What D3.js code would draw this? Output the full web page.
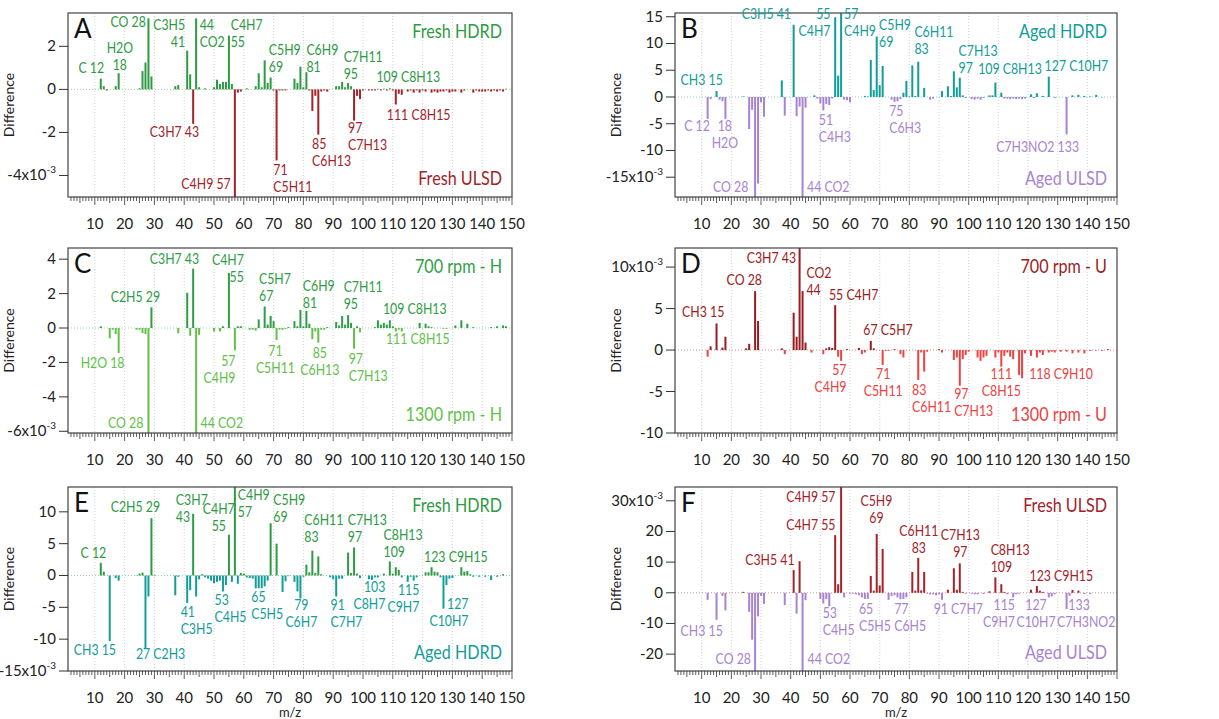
<!DOCTYPE html>
<html lang="en">
<head>
<meta charset="UTF-8">
<title>Difference spectra</title>
<script src="https://d3js.org/d3.v7.min.js"></script>
<style>
  body { margin: 0; background: #fff; font-family: Lato, "Open Sans", sans-serif; }
  svg text { font-family: Lato, "Open Sans", sans-serif; }
</style>
</head>
<body>
<script>
// values are x10^-3, [m/z, difference]
const specA = [[12,0.5],[13,0.15],[14,-0.05],[17,0.15],[18,0.75],[25,0.05],[26,0.85],[27,1.25],[28,3.3],[29,0.6],
  [37,0.15],[38,0.2],[41,1.8],[42,0.7],[43,-1.6],[44,3.3],[45,0.1],[47,0.05],[50,0.1],[51,0.45],[52,0.25],[53,0.35],
  [54,0.35],[55,2.5],[56,0.25],[57,-5.5],[58,-0.15],[59,-0.1],[61,0.05],[64,0.15],[65,0.75],[66,0.1],[67,1.35],[68,0.3],
  [69,0.55],[70,-0.05],[71,-3.3],[72,-0.05],[73,-0.05],[74,-0.05],[77,0.5],[78,0.3],[79,1.05],[80,0.1],[81,0.8],
  [82,-0.05],[83,-1.0],[84,-0.3],[85,-2.1],[86,-0.1],[87,-0.05],[88,-0.1],[91,0.15],[92,0.15],[93,0.35],[94,0.1],
  [95,0.3],[96,0.15],[97,-1.45],[98,-0.3],[99,-0.45],[100,-0.05],[102,-0.05],[103,-0.05],[104,-0.05],[105,0.03],
  [106,-0.05],[107,0.03],[108,-0.05],[109,0.05],[110,-0.05],[111,-0.7],[112,-0.2],[113,-0.25],[115,-0.1],[116,-0.05],
  [117,-0.15],[118,-0.05],[119,-0.15],[120,-0.05],[121,-0.1],[123,-0.15],[124,-0.1],[125,-0.15],[126,-0.1],[127,-0.1],
  [128,-0.05],[129,-0.15],[130,-0.1],[131,-0.1],[133,-0.15],[134,-0.05],[137,-0.15],[138,-0.05],[139,-0.1],[140,-0.1],
  [141,-0.1],[142,-0.05],[143,-0.1],[144,-0.05],[145,-0.1],[146,-0.05],[147,-0.1],[148,0.03]];

const specB = [[12,-4.1],[13,-0.4],[15,1.1],[16,-0.5],[17,-0.8],[18,-4.1],[24,0.1],[26,-6.0],[27,-2.4],[28,-20],
  [29,-16.2],[30,-1.0],[31,-3.7],[37,3.1],[38,-3.5],[41,13.5],[42,-3.6],[43,-1.8],[44,-20],[45,-2.0],[48,0.3],
  [49,-0.3],[50,-1.2],[51,-2.5],[52,-1.3],[53,-1.5],[54,-0.3],[55,14.9],[56,4.0],[57,16.5],[58,-0.5],[59,-0.6],
  [60,-1.0],[65,0.2],[66,0.1],[67,6.9],[68,1.3],[69,11.3],[70,2.2],[71,5.8],[74,-0.5],[75,-0.9],[76,-0.8],[77,-0.4],
  [78,0.8],[79,3.0],[80,0.1],[81,5.9],[82,0.2],[83,6.6],[85,1.7],[87,-0.5],[88,-0.3],[91,1.1],[93,2.0],[94,0.2],
  [95,4.8],[96,1.8],[97,3.6],[98,0.3],[99,-0.2],[101,-0.4],[102,-0.5],[103,-0.3],[104,-0.5],[105,-0.2],[107,0.3],
  [108,0.3],[109,2.7],[111,0.8],[112,-0.3],[113,-0.3],[114,-0.4],[115,-0.3],[116,-0.4],[117,-0.3],[118,-0.4],
  [119,-0.3],[121,0.5],[122,-0.2],[123,0.7],[125,0.2],[127,3.8],[129,-0.2],[133,-7.0],[135,0.3],[137,0.4],[139,0.2],
  [141,0.1],[143,0.4],[145,-0.1]];

const specC = [[12,0.1],[15,-0.6],[16,-0.1],[17,-0.35],[18,-1.45],[24,-0.1],[25,-0.1],[26,-0.3],[27,-0.35],[28,-6.3],
  [29,1.2],[38,-0.3],[41,2.05],[42,-0.45],[43,3.45],[44,-6.3],[45,-0.4],[50,-0.2],[52,-0.2],[53,0.1],[55,3.2],
  [57,-1.3],[58,0.1],[59,0.1],[62,-0.1],[63,-0.1],[64,-0.15],[65,0.5],[67,1.25],[68,0.2],[69,0.7],[70,0.4],[71,-0.7],
  [72,-0.1],[73,-0.1],[74,-0.05],[75,0.05],[77,0.4],[78,0.1],[79,1.05],[80,0.1],[81,1.0],[82,0.25],[83,-0.65],
  [84,-0.2],[85,-0.85],[86,-0.1],[87,-0.1],[88,0.05],[91,0.35],[92,0.15],[93,0.7],[94,0.2],[95,0.75],[96,0.3],
  [97,-1.2],[98,0.1],[99,-0.25],[104,0.05],[105,0.45],[106,0.2],[107,0.3],[108,0.2],[109,0.45],[110,0.1],[111,-0.2],
  [112,-0.1],[113,-0.2],[119,0.3],[121,0.25],[122,0.1],[123,0.05],[127,-0.05],[128,-0.05],[131,0.15],[133,0.45],
  [135,0.25],[137,0.05],[143,0.05],[145,0.1],[147,0.15],[148,0.1]];

const specD = [[12,-0.8],[13,0.45],[15,3.2],[17,0.3],[18,1.6],[25,0.2],[26,0.75],[28,7.1],[29,3.5],[37,0.2],[38,-0.5],
  [41,4.5],[42,1.6],[43,12.5],[44,7.1],[45,0.9],[47,-0.3],[51,-0.5],[52,0.2],[53,0.35],[54,0.25],[55,5.4],[56,-0.8],
  [57,-1.3],[59,0.1],[63,0.25],[64,-0.5],[65,-0.3],[67,1.1],[68,0.2],[71,-1.8],[72,-0.1],[73,-0.1],[75,0.1],[77,-0.5],
  [78,-0.9],[83,-3.6],[84,-0.3],[85,-2.6],[86,-0.2],[90,0.1],[91,-0.3],[95,-1.2],[96,-0.9],[97,-4.3],[98,-1.1],
  [99,-0.6],[100,-0.2],[103,-0.9],[104,-1.3],[105,-0.9],[106,-0.7],[109,-0.9],[110,-0.3],[111,-2.0],[112,-0.7],
  [113,-0.3],[114,-0.8],[115,-1.1],[117,-3.0],[118,-3.4],[119,-0.4],[121,-0.7],[123,-0.9],[124,-0.3],[125,-0.6],
  [127,-0.3],[128,-0.2],[129,-0.3],[131,-0.2],[133,-0.2],[135,-0.4],[137,-0.3],[139,-0.4],[141,-0.1],[143,-0.05],
  [145,-0.1],[147,0.1]];

const specE = [[12,2.0],[13,0.6],[15,-10.3],[17,-0.4],[18,-0.8],[24,0.05],[25,0.3],[26,0.45],[27,-11.5],[28,-3.3],
  [29,9.0],[30,0.1],[37,-3.1],[38,-0.2],[41,-4.3],[42,-2.3],[43,9.7],[44,-3.3],[45,-0.6],[46,0.2],[47,-0.3],[48,-0.5],
  [49,-0.8],[50,-1.2],[51,-1.0],[52,-0.8],[53,-2.5],[54,-1.5],[55,6.4],[56,-1.0],[57,14.5],[58,-1.3],[59,0.4],[60,0.3],
  [61,-0.3],[62,-0.4],[63,-0.5],[64,-2.0],[65,-2.0],[66,-2.0],[67,-1.7],[68,-0.8],[69,8.2],[71,5.0],[73,-2.6],
  [74,-0.9],[75,-0.1],[77,-1.0],[78,-2.5],[79,-3.6],[80,-0.2],[81,1.7],[82,0.5],[83,3.9],[84,0.4],[85,3.0],[86,0.2],
  [89,-0.3],[90,-0.6],[91,-3.3],[92,-0.5],[93,-0.5],[95,3.6],[96,0.4],[97,4.4],[98,0.3],[99,-0.4],[102,-0.6],
  [103,-0.7],[104,-0.3],[105,-0.3],[107,0.3],[109,2.2],[110,0.3],[111,1.3],[112,0.9],[113,-0.3],[115,-1.0],[116,-0.2],
  [117,-0.8],[118,-0.3],[121,0.5],[122,0.5],[123,1.3],[124,0.6],[125,0.5],[126,-0.3],[127,-5.2],[128,-1.5],
  [129,-0.5],[130,-0.4],[133,1.3],[134,0.6],[135,0.7],[136,0.2],[137,-0.2],[139,-0.2],[141,-0.2],[143,-0.7],
  [145,-0.2],[147,0.2]];

const specF = [[12,-2.3],[15,-8.8],[17,-1.0],[18,-5.7],[24,0.3],[26,-6.2],[27,-15.3],[28,-28],[29,-7.7],[30,-1.0],
  [31,-3.6],[38,-4.0],[41,7.4],[42,-6.8],[43,10.3],[44,-28],[45,-2.4],[50,-2.0],[51,-3.5],[52,-2.0],[53,-4.4],
  [55,18.8],[56,2.8],[57,36],[58,-1.5],[60,-0.3],[61,-0.3],[62,-0.5],[63,-0.8],[64,-1.5],[65,-2.0],[66,-2.0],[67,5.5],
  [68,0.7],[69,19.2],[70,2.4],[71,14.3],[73,-2.3],[74,-1.0],[75,-0.8],[76,-1.5],[77,-2.1],[78,-2.0],[79,-1.5],
  [81,6.8],[82,0.7],[83,11.4],[84,0.8],[85,6.8],[86,-0.3],[87,-0.5],[88,-0.5],[89,-0.8],[90,-0.5],[91,-2.3],[93,1.0],
  [95,8.0],[96,1.0],[97,9.6],[98,0.3],[99,-0.3],[101,-0.3],[102,-0.5],[103,-0.5],[105,-0.4],[107,0.5],[109,5.0],
  [111,2.8],[112,0.3],[113,-0.5],[115,-1.5],[116,-0.5],[117,-0.3],[121,1.0],[123,2.2],[124,0.7],[125,0.3],
  [127,-1.5],[128,-1.2],[129,-0.5],[133,-5.3],[134,-1.0],[135,0.9],[137,0.7],[139,-0.4],[141,-0.4]];

// peak labels: [text, m/z, value, anchor, side]
const labelsA = [["C 12",8.8,0.74,"middle","p"],["H2O\n18",18.4,1.67,"middle","p"],["CO 28",21.2,2.88,"middle","p"],
  ["C3H5\n41",40.3,2.78,"end","p"],["44\nCO2",45.2,2.78,"start","p"],["C4H7\n55",55.6,2.78,"start","p"],
  ["C5H9\n69",68.4,1.59,"start","p"],["C6H9\n81",81.0,1.59,"start","p"],["C7H11\n95",93.5,1.28,"start","p"],
  ["109 C8H13",104.5,0.35,"start","p"],
  ["C3H7 43",45.0,-2.23,"end","n"],["C4H9 57",55.6,-4.64,"end","n"],["71\nC5H11",69.9,-3.98,"start","n"],
  ["85\nC6H13",82.9,-2.78,"start","n"],["97\nC7H13",95.0,-2.01,"start","n"],["111 C8H15",108.0,-1.42,"start","n"]];

const labelsB = [["CH3 15",10.0,2.3,"middle","p"],["C3H5 41",40.1,14.5,"end","p"],["55\nC4H7",53.4,14.5,"end","p"],
  ["57\nC4H9",58.0,14.5,"start","p"],["C5H9\n69",69.8,12.6,"start","p"],["C6H11\n83",81.7,11.25,"start","p"],
  ["C7H13\n97",96.6,7.6,"start","p"],["109 C8H13",103.2,4.37,"start","p"],["127 C10H7",125.6,4.8,"start","p"],
  ["C 12",8.4,-6.45,"middle","n"],["18\nH2O",17.8,-6.45,"middle","n"],["CO 28",25.7,-17.7,"end","n"],
  ["44 CO2",45.5,-17.7,"start","n"],["51\nC4H3",49.5,-5.2,"start","n"],["75\nC6H3",73.2,-3.64,"start","n"],
  ["C7H3NO2 133",137.2,-10.2,"end","n"]];

const labelsC = [["C2H5 29",31.9,1.5,"end","p"],["C3H7 43",45.0,3.74,"end","p"],["C4H7\n55",60.0,3.64,"end","p"],
  ["C5H7\n67",65.1,2.57,"start","p"],["C6H9\n81",79.8,2.14,"start","p"],["C7H11\n95",93.5,2.08,"start","p"],
  ["109 C8H13",106.7,0.82,"start","p"],
  ["H2O 18",12.6,-2.34,"middle","n"],["CO 28",26.3,-5.81,"end","n"],["44 CO2",45.5,-5.81,"start","n"],
  ["57\nC4H9",57.2,-2.2,"end","n"],["71\nC5H11",70.6,-1.62,"middle","n"],["85\nC6H13",85.5,-1.72,"middle","n"],
  ["97\nC7H13",95.2,-2.07,"start","n"],["111 C8H15",107.7,-0.94,"start","n"]];

const labelsD = [["CH3 15",10.5,4.0,"middle","p"],["CO 28",30.3,7.89,"end","p"],["C3H7 43",41.8,10.5,"end","p"],
  ["CO2\n44",45.3,8.69,"start","p"],["55 C4H7",52.9,6.09,"start","p"],["67 C5H7",64.5,1.76,"start","p"],
  ["57\nC4H9",58.8,-3.04,"end","n"],["71\nC5H11",71.2,-3.52,"middle","n"],["83\nC6H11",80.9,-5.4,"start","n"],
  ["97\nC7H13",95.1,-5.92,"start","n"],["111\nC8H15",111.0,-3.52,"middle","n"],["118 C9H10",120.4,-3.52,"start","n"]];

const labelsE = [["C 12",9.5,2.77,"middle","p"],["C2H5 29",31.9,10.0,"end","p"],["C3H7\n43",37.2,11.08,"start","p"],
  ["C4H7\n55",51.6,9.67,"middle","p"],["C4H9\n57",58.0,11.8,"start","p"],["C5H9\n69",69.9,11.13,"start","p"],
  ["C6H11\n83",80.3,8.0,"start","p"],["C7H13\n97",94.9,8.0,"start","p"],["C8H13\n109",106.9,5.6,"start","p"],
  ["123 C9H15",120.5,2.09,"start","p"],
  ["CH3 15",17.1,-12.54,"end","n"],["27 C2H3",23.8,-13.06,"start","n"],["41\nC3H5",38.8,-6.53,"start","n"],
  ["53\nC4H5",50.2,-4.7,"start","n"],["65\nC5H5",62.5,-4.18,"start","n"],["79\nC6H7",79.3,-5.49,"middle","n"],
  ["91\nC7H7",89.1,-5.49,"start","n"],["103\nC8H7",107.5,-2.61,"end","n"],["115\nC9H7",118.9,-3.13,"end","n"],
  ["127\nC10H7",135.4,-5.22,"end","n"]];

const labelsF = [["C4H9 57",55.1,29.7,"end","p"],["C4H7 55",55.1,20.5,"end","p"],["C5H9\n69",68.9,28.3,"middle","p"],
  ["C3H5 41",41.3,9.1,"end","p"],["C6H11\n83",83.2,18.6,"middle","p"],["C7H13\n97",97.2,17.3,"middle","p"],
  ["C8H13\n109",107.4,12.4,"start","p"],["123 C9H15",120.5,4.0,"start","p"],
  ["CH3 15",10.0,-14.2,"middle","n"],["CO 28",26.6,-23.2,"end","n"],["44 CO2",45.7,-23.2,"start","n"],
  ["53\nC4H5",50.8,-8.25,"start","n"],["65\nC5H5",63.0,-6.84,"start","n"],["77\nC6H5",74.9,-6.84,"start","n"],
  ["91 C7H7",88.2,-6.84,"start","n"],["115\nC9H7",115.6,-5.75,"end","n"],["127\nC10H7",122.7,-5.6,"middle","n"],
  ["133",133.6,-5.6,"start","n"],["C7H3NO2",129.8,-11.15,"start","n"]];

const xTicks = d3.range(10, 151, 10);

const GREEN = "#2e9a44", DARKRED = "#a2232a", TEAL = "#139d98", LAVENDER = "#a784d0";

const panels = [
  {id: "A", col: 0, row: 0, spec: specA, labels: labelsA, yDomain: [-5, 3.55], yTicks: [-4, -2, 0, 2],
    pos: GREEN, neg: DARKRED, top: "Fresh HDRD", bottom: "Fresh ULSD"},
  {id: "B", col: 1, row: 0, spec: specB, labels: labelsB, yDomain: [-18.7, 15.7], yTicks: [-15, -10, -5, 0, 5, 10, 15],
    pos: TEAL, neg: LAVENDER, top: "Aged HDRD", bottom: "Aged ULSD"},
  {id: "C", col: 0, row: 1, spec: specC, labels: labelsC, yDomain: [-6.1, 4.65], yTicks: [-6, -4, -2, 0, 2, 4],
    pos: "#2f9d45", neg: "#62bf4a", top: "700 rpm - H", bottom: "1300 rpm - H"},
  {id: "D", col: 1, row: 1, spec: specD, labels: labelsD, yDomain: [-10, 12.3], yTicks: [-10, -5, 0, 5, 10],
    pos: "#9a1c22", neg: "#eb4242", top: "700 rpm - U", bottom: "1300 rpm - U"},
  {id: "E", col: 0, row: 2, spec: specE, labels: labelsE, yDomain: [-15, 13.9], yTicks: [-15, -10, -5, 0, 5, 10],
    pos: GREEN, neg: TEAL, top: "Fresh HDRD", bottom: "Aged HDRD"},
  {id: "F", col: 1, row: 2, spec: specF, labels: labelsF, yDomain: [-25.5, 34.5], yTicks: [-20, -10, 0, 10, 20, 30],
    pos: DARKRED, neg: LAVENDER, top: "Fresh ULSD", bottom: "Aged ULSD"}
];

const width = 1219, height = 719;
const colLeft = [68, 675], colRight = [512, 1117];
const rowTop = [13, 248, 487], rowBottom = [197, 433, 671];
const squeeze = 0.85;  // the original labels use a narrow face

const svg = d3.select("body").append("svg")
    .attr("width", width)
    .attr("height", height);

panels.forEach(p => {
    const x0 = colLeft[p.col], x1 = colRight[p.col];
    const y0 = rowTop[p.row], y1 = rowBottom[p.row];
    const x = d3.scaleLinear().domain([1, 150]).range([x0, x1]);
    const y = d3.scaleLinear().domain(p.yDomain).range([y1, y0]);
    const g = svg.append("g");

    const clipId = "clip" + p.id;
    g.append("clipPath").attr("id", clipId)
        .append("rect").attr("x", x0).attr("y", y0).attr("width", x1 - x0).attr("height", y1 - y0);

    // dotted grid
    g.append("g").selectAll("line").data(xTicks.filter(t => t < 150)).join("line")
        .attr("x1", d => x(d)).attr("x2", d => x(d))
        .attr("y1", y0).attr("y2", y1)
        .attr("stroke", "#c8c8c8").attr("stroke-width", 0.8).attr("stroke-dasharray", "1,2");
    g.append("line")
        .attr("x1", x0).attr("x2", x1).attr("y1", y(0)).attr("y2", y(0))
        .attr("stroke", p.pos).attr("stroke-opacity", 0.6).attr("stroke-width", 0.8).attr("stroke-dasharray", "1,2");

    // bars
    g.append("g").attr("clip-path", `url(#${clipId})`)
        .selectAll("rect").data(p.spec).join("rect")
        .attr("x", d => x(d[0]) - 1)
        .attr("width", 2)
        .attr("y", d => Math.min(y(d[1]), y(0)))
        .attr("height", d => Math.abs(y(d[1]) - y(0)))
        .attr("fill", d => d[1] >= 0 ? p.pos : p.neg);

    // frame
    g.append("rect").attr("x", x0).attr("y", y0).attr("width", x1 - x0).attr("height", y1 - y0)
        .attr("fill", "none").attr("stroke", "#444").attr("stroke-width", 1.2);

    // x axis ticks (minor every 1, medium every 5, major every 10)
    g.append("g").selectAll("line").data(d3.range(2, 151)).join("line")
        .attr("x1", d => x(d)).attr("x2", d => x(d))
        .attr("y1", y1).attr("y2", d => y1 + (d % 10 === 0 ? 8 : d % 5 === 0 ? 6 : 4))
        .attr("stroke", "#333").attr("stroke-width", 0.8);
    g.append("g").selectAll("text").data(xTicks).join("text")
        .attr("x", d => x(d)).attr("y", y1 + 32)
        .attr("text-anchor", "middle").attr("font-size", 15).attr("fill", "#222")
        .text(d => d);

    // y axis, exponent goes on the bottom tick (top tick for D and F)
    const expTick = p.id === "D" || p.id === "F" ? d3.max(p.yTicks) : d3.min(p.yTicks);
    g.append("g").selectAll("line").data(p.yTicks).join("line")
        .attr("x1", x0 - 9).attr("x2", x0)
        .attr("y1", d => y(d)).attr("y2", d => y(d))
        .attr("stroke", "#333").attr("stroke-width", 1);
    const yl = g.append("g").selectAll("text").data(p.yTicks).join("text")
        .attr("x", x0 - 12).attr("y", d => y(d) + 5)
        .attr("text-anchor", "end").attr("font-size", 15).attr("fill", "#222");
    yl.append("tspan").text(d => d === expTick ? d + "x10" : d);
    yl.filter(d => d === expTick).append("tspan")
        .attr("font-size", 10).attr("dy", -7).text("-3");

    g.append("text")
        .attr("transform", `translate(${x0 - 54},${(y0 + y1) / 2}) rotate(-90)`)
        .attr("text-anchor", "middle").attr("font-size", 14).attr("fill", "#222")
        .text("Difference");

    // panel letter and condition names
    g.append("text").attr("x", x0 + 6).attr("y", y0 + 25)
        .attr("font-size", 26).attr("fill", "#111").text(p.id);
    g.append("text")
        .attr("transform", `translate(${x1 - 10},${y0 + 25}) scale(${squeeze},1)`)
        .attr("text-anchor", "end").attr("font-size", 19).attr("fill", p.pos).text(p.top);
    g.append("text")
        .attr("transform", `translate(${x1 - 10},${y1 - 12}) scale(${squeeze},1)`)
        .attr("text-anchor", "end").attr("font-size", 19).attr("fill", p.neg).text(p.bottom);

    // peak labels
    const lab = g.append("g").selectAll("text").data(p.labels).join("text")
        .attr("transform", d => `translate(${x(d[1])},${y(d[2])}) scale(${squeeze},1)`)
        .attr("text-anchor", d => d[3])
        .attr("font-size", 14.5)
        .attr("fill", d => d[4] === "p" ? p.pos : p.neg);
    lab.each(function(d) {
        const t = d3.select(this);
        d[0].split("\n").forEach((line, i) => {
            t.append("tspan").attr("x", 0).attr("y", i * 17).text(line);
        });
    });

    if (p.row === 2) {
        g.append("text").attr("x", (x0 + x1) / 2).attr("y", 717)
            .attr("text-anchor", "middle").attr("font-size", 13).attr("fill", "#222")
            .text("m/z");
    }
});
</script>
</body>
</html>
